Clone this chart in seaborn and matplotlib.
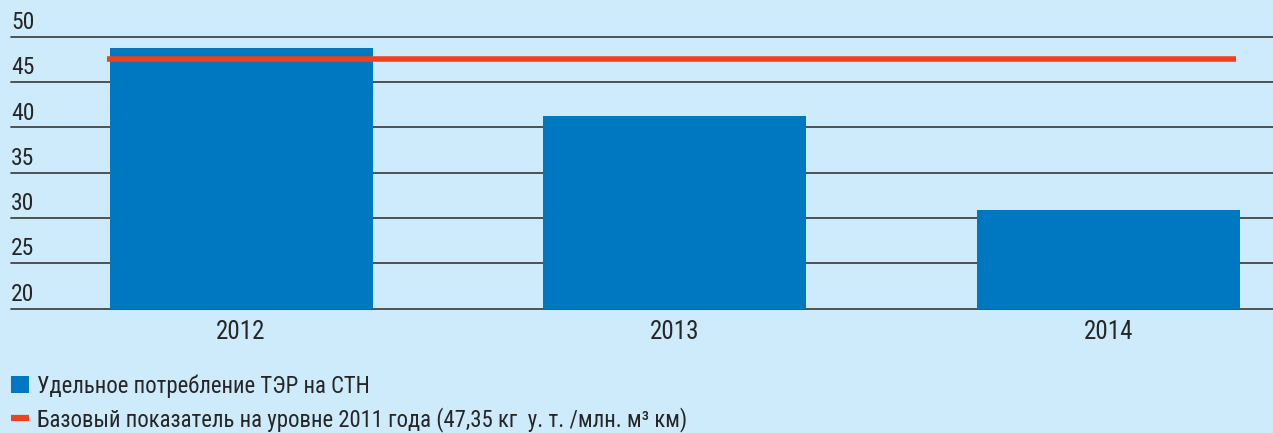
import numpy as np
import pandas as pd
import matplotlib
matplotlib.use("Agg")
import matplotlib.pyplot as plt
import matplotlib.transforms as mtransforms
from matplotlib import font_manager as fm
from matplotlib.patches import Patch
from matplotlib.lines import Line2D
import seaborn as sns

# data
years = ["2012", "2013", "2014"]
consumption = [48.7, 41.3, 30.9]
base_2011 = 47.5  # drawn level (label says 47,35)
y_ticks = [20, 25, 30, 35, 40, 45, 50]
legend_labels = ["Удельное потребление ТЭР на СТН",
                 "Базовый показатель на уровне 2011 года (47,35 кг  у. т. /млн. м³ км)"]

bg = "#cdebfb"
bar_color = "#0078c1"
red = "#f0401f"
text_color = "#262626"
grid_color = "#454545"

sns.set_style("white")
plt.rcParams["font.family"] = ["DejaVu Sans"]


# look for a narrow sans face (reference uses a condensed grotesque)
def pick_narrow():
    prefs = ["Liberation Sans Narrow", "Roboto Condensed", "Open Sans Condensed",
             "Noto Sans Condensed", "DejaVu Sans Condensed"]
    found = []
    for f in fm.fontManager.ttflist:
        key = (f.name + " " + f.fname).lower()
        if f.style != "normal" or f.weight not in (400, "normal", "regular"):
            continue
        if "narrow" in key or "condensed" in key or f.stretch in ("condensed", "semi-condensed"):
            if "mono" in key or "serif" in key.replace("sans", ""):
                continue
            found.append(f)
    for p in prefs:
        for f in found:
            if p.lower().replace(" ", "") in (f.name + " " + f.fname).lower().replace(" ", ""):
                return fm.FontProperties(fname=f.fname)
    if found:
        return fm.FontProperties(fname=found[0].fname)
    return fm.FontProperties(family="DejaVu Sans", stretch="condensed")


base_font = pick_narrow()
ytick_font = base_font.copy()
ytick_font.set_size(17)
xtick_font = base_font.copy()
xtick_font.set_size(18)
legend_font = base_font.copy()
legend_font.set_size(16.4)

df = pd.DataFrame({"year": years, "value": consumption})

fig = plt.figure(figsize=(12.73, 4.33), dpi=100, facecolor=bg)
ax = fig.add_axes([11 / 1273, 1 - 308.5 / 433, 1 - 11 / 1273, (308.5 - 36.7) / 433])
ax.set_facecolor(bg)

sns.barplot(data=df, x="year", y="value", color=bar_color, saturation=1,
            width=0.606, linewidth=0, ax=ax, zorder=2)

ax.set_ylim(20, 50)
ax.set_xlim(-0.53, 2.378)
ax.set_xlabel("")
ax.set_ylabel("")

# horizontal rules
for t in y_ticks:
    ax.axhline(t, color=grid_color, lw=1.3, zorder=1, clip_on=False)

# base line spanning from the first bar to the last
first, last = ax.patches[0], ax.patches[-1]
ax.hlines(base_2011, first.get_x() - 0.005, last.get_x() + last.get_width() - 0.01,
          color=red, lw=4, zorder=3)

for s in ax.spines.values():
    s.set_visible(False)

ax.set_yticks([])
ax.tick_params(axis="x", length=0, pad=8, labelcolor=text_color)
for lab in ax.get_xticklabels():
    lab.set_fontproperties(xtick_font)

# y labels sit above their rules
trans = mtransforms.offset_copy(ax.get_yaxis_transform(), fig=fig, x=0, y=2, units="points")
for t in y_ticks:
    ax.text(0, t, str(t), transform=trans, ha="left", va="bottom",
            fontproperties=ytick_font, color=text_color)

handles = [Patch(facecolor=bar_color, edgecolor="none"),
           Line2D([0], [0], color=red, lw=4.5, solid_capstyle="butt")]
fig.legend(handles, legend_labels, loc="upper left",
           bbox_to_anchor=(11 / 1273, 1 - 374 / 433), frameon=False,
           prop=legend_font, labelcolor=text_color, handlelength=0.79, handleheight=0.72,
           handletextpad=0.36, labelspacing=0.4, borderaxespad=0, borderpad=0)

fig.savefig("out.png", dpi=100, facecolor=bg)
